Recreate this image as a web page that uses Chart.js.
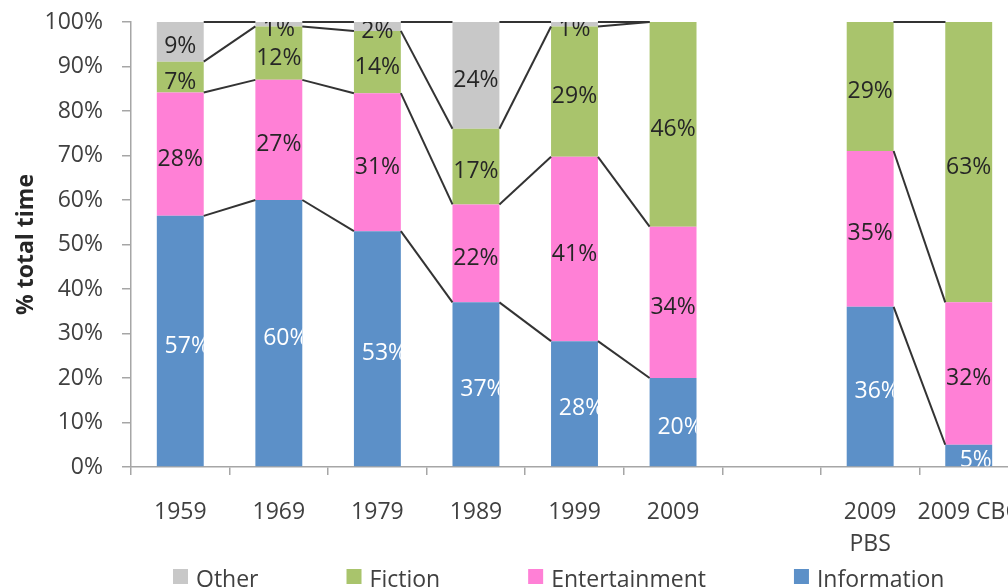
<!DOCTYPE html>
<html><head><meta charset="utf-8">
<script src="https://cdn.jsdelivr.net/npm/chart.js@4/dist/chart.umd.min.js"></script>
<style>
html,body{margin:0;padding:0;overflow:hidden;background:#fff;}
#wrap{position:relative;width:1040px;height:587px;}
</style></head><body>
<div id="wrap"><canvas id="c" width="1040" height="587"></canvas></div>
<script>
// ---- data ----
const categories = ['1959','1969','1979','1989','1999','2009','',['2009','PBS'],'2009 CBC'];
const information   = [57, 60, 53, 37, 28, 20, null, 36, 5];
const entertainment = [28, 27, 31, 22, 41, 34, null, 35, 32];
const fiction       = [ 7, 12, 14, 17, 29, 46, null, 29, 63];
const other         = [ 9,  1,  2, 24,  1,  0, null,  0,  0];
const yTickValues   = [0,10,20,30,40,50,60,70,80,90,100];
const seriesNames   = ['Information','Entertainment','Fiction','Other'];
const seriesColors  = ['#5c90c8','#ff80d6','#a9c46c','#c8c8c8'];
const labelColors   = ['#ffffff','#262626','#262626','#262626'];

// 100% stacked: each category normalised to its total (like Excel)
const raw = [information, entertainment, fiction, other];
const totals = categories.map((c,i)=> raw.every(s=>s[i]===null) ? null : raw.reduce((a,s)=>a+(s[i]||0),0));
const share = s => s.map((v,i)=> v===null ? null : v/totals[i]*100);

const FONT = "'Open Sans', sans-serif";
Chart.defaults.font.family = FONT;
Chart.defaults.font.size = 23;

const seriesLines = {
  id:'seriesLines',
  afterDatasetsDraw(chart){
    const ctx = chart.ctx;
    ctx.save();
    ctx.strokeStyle = '#333333';
    ctx.lineWidth = 2;
    chart.data.datasets.forEach((ds,di)=>{
      const meta = chart.getDatasetMeta(di);
      for(let i=0;i<meta.data.length-1;i++){
        if(ds.data[i]===null || ds.data[i+1]===null) continue;
        const a = meta.data[i], b = meta.data[i+1];
        ctx.beginPath();
        ctx.moveTo(a.x + a.width/2, a.y);
        ctx.lineTo(b.x - b.width/2, b.y);
        ctx.stroke();
      }
    });
    ctx.restore();
  }
};

const dataLabels = {
  id:'dataLabels',
  afterDatasetsDraw(chart){
    const ctx = chart.ctx;
    const ca = chart.chartArea;
    chart.data.datasets.forEach((ds,di)=>{
      const meta = chart.getDatasetMeta(di);
      meta.data.forEach((el,i)=>{
        const v = raw[di][i];
        if(v===null || v===0) return;
        ctx.save();
        ctx.beginPath();
        if(di===0){
          ctx.rect(el.x-el.width/2, Math.min(el.y,el.base), el.width, Math.min(Math.abs(el.base-el.y), ca.bottom-Math.min(el.y,el.base)));
        } else {
          ctx.rect(ca.left, ca.top, ca.right-ca.left, ca.bottom-ca.top);
        }
        ctx.clip();
        ctx.fillStyle = labelColors[di];
        ctx.font = '23px ' + FONT;
        ctx.textAlign = 'center';
        ctx.textBaseline = 'middle';
        const dx = di===0 ? 7 : 0;
        ctx.fillText(v + '%', el.x + dx, (el.y + el.base)/2 + 5);
        ctx.restore();
      });
    });
  }
};

const customLegend = {
  id:'customLegend',
  afterDraw(chart){
    const ctx = chart.ctx;
    ctx.save();
    ctx.font = '23px ' + FONT;
    ctx.textBaseline = 'middle';
    ctx.textAlign = 'left';
    let x = 173;
    const y = 580;
    [3,2,1,0].forEach(di=>{
      ctx.fillStyle = seriesColors[di];
      ctx.fillRect(x, y-11, 15, 15);
      ctx.fillStyle = '#404040';
      const t = seriesNames[di];
      ctx.fillText(t, x+23, y);
      x += 23 + ctx.measureText(t).width + 88;
    });
    ctx.restore();
  }
};

new Chart(document.getElementById('c'), {
  type:'bar',
  data:{
    labels: categories,
    datasets: raw.map((s,di)=>({
      label: seriesNames[di],
      data: share(s),
      backgroundColor: seriesColors[di],
      borderWidth: 0,
      categoryPercentage: 1,
      barPercentage: 0.476
    }))
  },
  options:{
    responsive:false,
    animation:false,
    devicePixelRatio:1,
    layout:{padding:{left:0, right:22, top:22, bottom:0}},
    plugins:{legend:{display:false}, tooltip:{enabled:false}},
    scales:{
      x:{
        stacked:true,
        offset:true,
        grid:{offset:true, drawOnChartArea:false, tickLength:8, color:'#a6a6a6', lineWidth:1.5},
        border:{color:'#a6a6a6', width:1.5},
        ticks:{color:'#404040', font:{size:23, lineHeight:1.4}, padding:21, maxRotation:0, autoSkip:false},
        afterFit(s){ s.height = 120; s.paddingLeft = 0; s.paddingRight = 0; }
      },
      y:{
        stacked:true,
        min:0, max:100,
        afterBuildTicks(s){ s.ticks = yTickValues.map(v=>({value:v})); },
        ticks:{color:'#404040', font:{size:23}, padding:19, callback:v=>v+'%'},
        grid:{drawOnChartArea:false, tickLength:9, color:'#a6a6a6', lineWidth:1.5},
        border:{color:'#a6a6a6', width:1.5},
        title:{display:true, text:'% total time', color:'#262626', font:{size:23, weight:'bold'}, padding:{top:13}},
        afterFit(s){ s.width = 131; s.paddingTop = 0; s.paddingBottom = 0; }
      }
    }
  },
  plugins:[seriesLines, dataLabels, customLegend]
});
</script>
</body></html>
